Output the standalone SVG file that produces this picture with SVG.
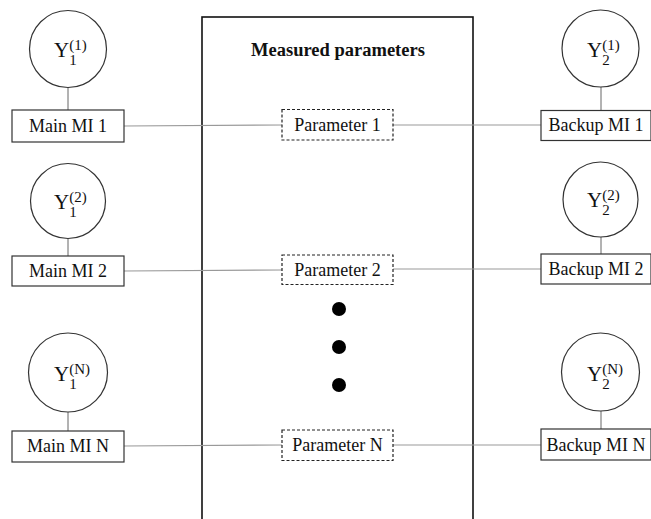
<svg xmlns="http://www.w3.org/2000/svg" width="651" height="519" viewBox="0 0 651 519">
<style>
.t{font-family:"Liberation Serif","Times New Roman",serif;font-size:18px;fill:#111;text-anchor:middle}
.ttl{font-family:"Liberation Serif","Times New Roman",serif;font-size:18.5px;font-weight:bold;fill:#111;text-anchor:middle}
.y{font-family:"Liberation Serif","Times New Roman",serif;font-size:21px;fill:#111}
.s{font-size:15px}
.box{fill:#fff;stroke:#333;stroke-width:1.2}
.pbox{fill:#fff;stroke:#222;stroke-width:1.2;stroke-dasharray:3 2}
.circ{fill:#fff;stroke:#333;stroke-width:1.2}
.conn{stroke:#999;stroke-width:1.2;fill:none}
.stem{stroke:#666;stroke-width:1;fill:none}
</style>
<rect id="container" x="202" y="17" width="271" height="520" fill="none" stroke="#111" stroke-width="1.6"/>
<text class="ttl" x="338" y="56">Measured parameters</text>
<g id="connectors">
<line class="conn" x1="124" y1="126" x2="282" y2="125"/>
<line class="conn" x1="393" y1="125" x2="541" y2="125"/>
<line class="conn" x1="124" y1="271" x2="282" y2="270"/>
<line class="conn" x1="393" y1="269" x2="541" y2="269"/>
<line class="conn" x1="124" y1="446" x2="282" y2="445"/>
<line class="conn" x1="393" y1="445" x2="541" y2="445"/>
<line class="stem" x1="68" y1="87" x2="68" y2="110"/>
<line class="stem" x1="68" y1="238" x2="68" y2="256"/>
<line class="stem" x1="68" y1="412" x2="68" y2="431"/>
<line class="stem" x1="601" y1="87" x2="601" y2="110"/>
<line class="stem" x1="601" y1="237" x2="601" y2="254"/>
<line class="stem" x1="601" y1="411" x2="601" y2="429"/>
</g>
<g id="y11"><circle class="circ" cx="68" cy="49" r="38.5"/><text class="y" x="54" y="57">Y<tspan class="s" dy="8">1</tspan><tspan class="s" dx="-7.5" dy="-15">(1)</tspan></text></g>
<g id="main1"><rect class="box" x="12" y="110" width="112" height="32"/><text class="t" x="68" y="132">Main MI 1</text></g>
<g id="y12"><circle class="circ" cx="68" cy="201" r="37.5"/><text class="y" x="54" y="209">Y<tspan class="s" dy="8">1</tspan><tspan class="s" dx="-7.5" dy="-15">(2)</tspan></text></g>
<g id="main2"><rect class="box" x="12" y="256" width="112" height="30"/><text class="t" x="68" y="277">Main MI 2</text></g>
<g id="y1n"><circle class="circ" cx="68" cy="372.5" r="39.5"/><text class="y" x="54" y="381">Y<tspan class="s" dy="8">1</tspan><tspan class="s" dx="-7.5" dy="-15">(N)</tspan></text></g>
<g id="mainN"><rect class="box" x="12" y="431" width="112" height="31"/><text class="t" x="68" y="452">Main MI N</text></g>
<g id="y21"><circle class="circ" cx="600.5" cy="48.5" r="38.5"/><text class="y" x="587" y="57">Y<tspan class="s" dy="8">2</tspan><tspan class="s" dx="-7.5" dy="-15">(1)</tspan></text></g>
<g id="backup1"><rect class="box" x="541" y="110.5" width="110" height="30"/><text class="t" x="596" y="131">Backup MI 1</text></g>
<g id="y22"><circle class="circ" cx="600.5" cy="199.5" r="37.5"/><text class="y" x="587" y="207">Y<tspan class="s" dy="8">2</tspan><tspan class="s" dx="-7.5" dy="-15">(2)</tspan></text></g>
<g id="backup2"><rect class="box" x="541" y="254" width="110" height="30"/><text class="t" x="596" y="275">Backup MI 2</text></g>
<g id="y2n"><circle class="circ" cx="600.5" cy="372" r="39"/><text class="y" x="587" y="381">Y<tspan class="s" dy="8">2</tspan><tspan class="s" dx="-7.5" dy="-15">(N)</tspan></text></g>
<g id="backupN"><rect class="box" x="541" y="429" width="110" height="31"/><text class="t" x="596" y="451">Backup MI N</text></g>
<g id="param1"><rect class="pbox" x="282" y="109.5" width="111" height="30.5"/><text class="t" x="337.5" y="131">Parameter 1</text></g>
<g id="param2"><rect class="pbox" x="282" y="255" width="111" height="29.5"/><text class="t" x="337.5" y="276">Parameter 2</text></g>
<g id="paramN"><rect class="pbox" x="282" y="430" width="111" height="30.5"/><text class="t" x="337.5" y="451">Parameter N</text></g>
<g id="dots" fill="#000"><circle cx="339" cy="309" r="7"/><circle cx="339" cy="347" r="7"/><circle cx="339" cy="385" r="7"/></g>
</svg>
